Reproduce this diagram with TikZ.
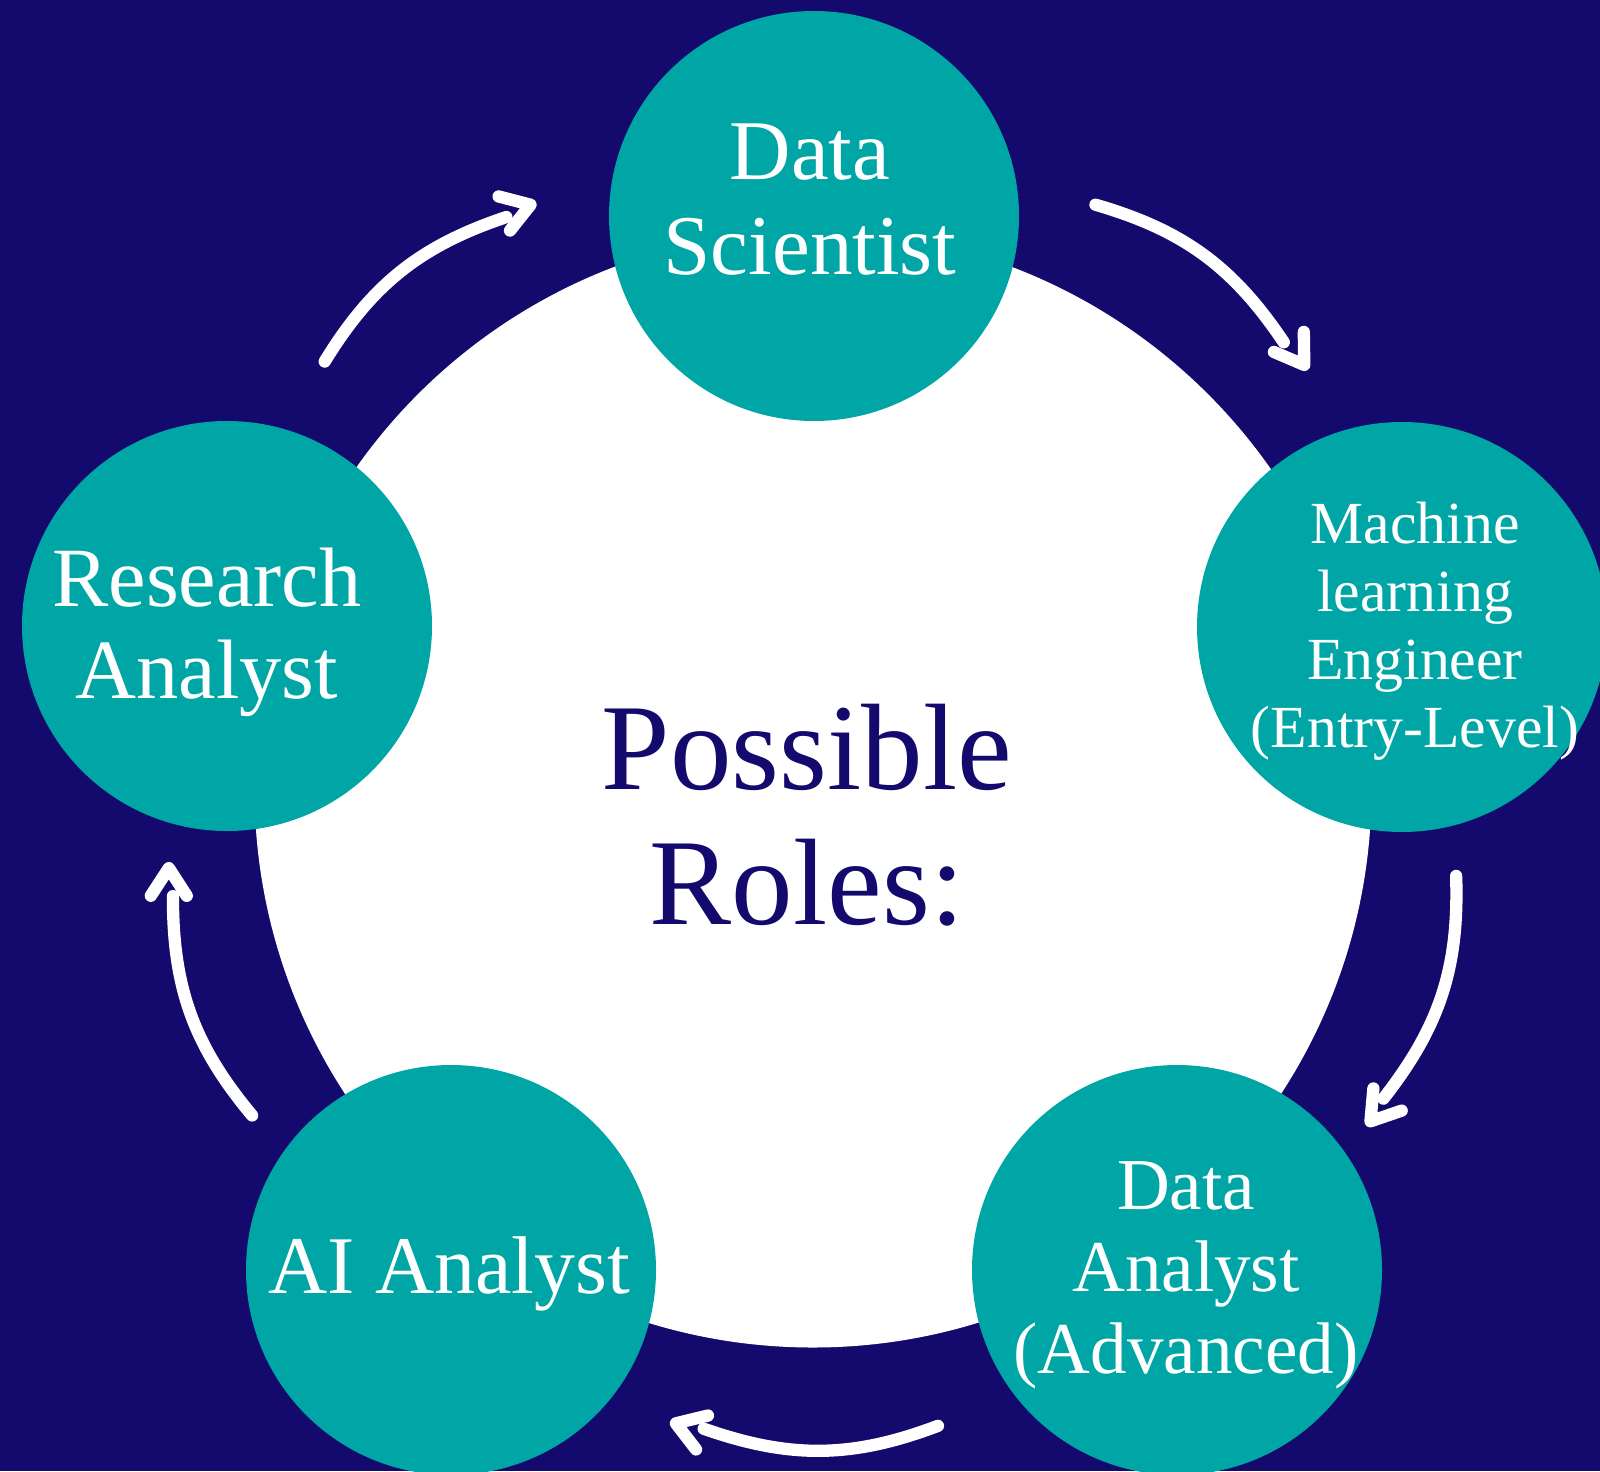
\documentclass[tikz,border=0pt]{standalone}
\usepackage{fontspec}
\setmainfont{Liberation Serif}
\usepackage{tikz}
\usetikzlibrary{positioning,calc}

\definecolor{navy}{RGB}{20,10,110}
\definecolor{roleteal}{RGB}{0,166,166}

\begin{document}
\begin{tikzpicture}[
  hubdisc/.style={circle,fill=white,minimum size=11.17cm,inner sep=0pt},
  role/.style={circle,fill=roleteal,minimum size=4.1cm,inner sep=0pt},
  rolename/.style={text=white,align=center,inner sep=0pt},
  flow/.style={draw=white,line width=3.5pt,line cap=round,line join=round},
]
\fill[navy] (0,0) rectangle (16,14.71);
\useasboundingbox (0,0) rectangle (16,14.71);

% centre disc and the five roles around it
\node[hubdisc] (hub) at (8.13,6.82) {};
\node[role] (ds) at (8.14,12.55) {};
\node[role] (mle) at (14.02,8.44) {};
\node[role] (da) at (11.77,2.01) {};
\node[role] (ai) at (4.51,2.01) {};
\node[role] (ra) at (2.27,8.45) {};

\node[text=navy,align=center,inner sep=0pt,font=\fontsize{35}{38.4}\selectfont] (title) at (8.07,6.555) {Possible\\Roles:};
\node[rolename,font=\fontsize{24.2}{27}\selectfont] (dsname) at (8.10,12.716) {Data\\Scientist};
\node[rolename,font=\fontsize{17}{19.3}\selectfont] (mlename) at (14.15,8.40) {Machine\\learning\\Engineer\\(Entry-Level)};
\node[rolename,font=\fontsize{20.8}{23.3}\selectfont] (daname) at (11.86,1.957) {Data\\Analyst\\(Advanced)};
\node[rolename,font=\fontsize{23.3}{26}\selectfont] (ainame) at (4.49,1.968) {AI Analyst};
\node[rolename,font=\fontsize{24}{26.2}\selectfont] (raname) at (2.07,8.384) {Research\\Analyst};

% clockwise arrows with open heads
\foreach \from/\to/\tip [count=\i] in {138.8/118.2/115.8, 64.2/43.5/40.8, -7.7/-28.5/-30.8, -78.9/-99.7/-102.2, -149.8/-170.5/-173} {
  \pgfmathsetmacro\dir{(\from+\to)/2-110}
  \coordinate (tail\i) at ([shift={(\from:6.49)}]hub.center);
  \coordinate (head\i) at ([shift={(\to:6.49)}]hub.center);
  \coordinate (tip\i) at ([shift={(\tip:6.49)}]hub.center);
  \draw[flow] (tail\i) to[bend left=20] (head\i);
  \draw[flow] ($(tip\i)+(\dir+147:0.33)$) -- (tip\i) -- ($(tip\i)+(\dir+213:0.33)$);
}
\end{tikzpicture}
\end{document}
